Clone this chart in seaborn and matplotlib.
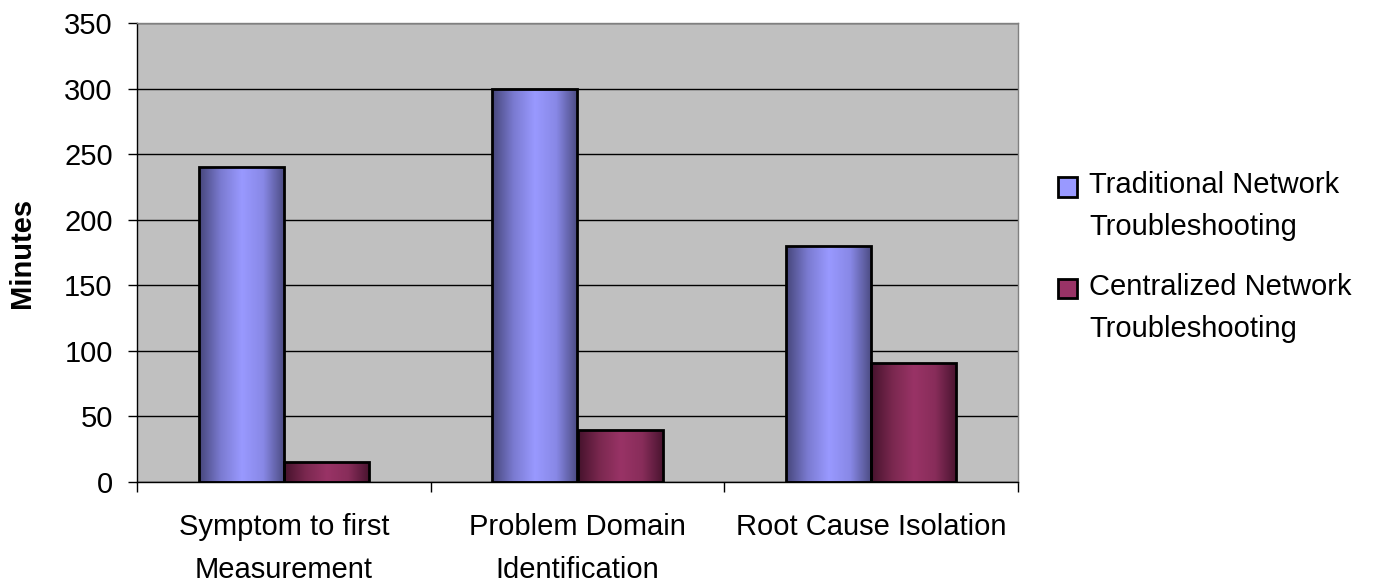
import numpy as np
import pandas as pd
import matplotlib
matplotlib.use("Agg")
import matplotlib.pyplot as plt
import seaborn as sns
from matplotlib.colors import LinearSegmentedColormap
from matplotlib.patches import Patch, Rectangle
from matplotlib.legend_handler import HandlerPatch

# chart values
categories = ["Symptom to first\nMeasurement", "Problem Domain\nIdentification", "Root Cause Isolation"]
series = ["Traditional Network\nTroubleshooting", "Centralized Network\nTroubleshooting"]
traditional = [240, 300, 180]
centralized = [15, 40, 91]

df = pd.DataFrame({
    "Category": categories * 2,
    "Series": [series[0]] * 3 + [series[1]] * 3,
    "Minutes": traditional + centralized,
})

sns.set_theme(style="white")
plt.rcParams["font.family"] = ["Liberation Sans", "DejaVu Sans"]
plt.rcParams["text.color"] = "black"
plt.rcParams["axes.labelcolor"] = "black"
plt.rcParams["xtick.color"] = "black"
plt.rcParams["ytick.color"] = "black"
FS = 21

colors = {series[0]: "#9999FF", series[1]: "#993366"}
cmaps = {
    series[0]: LinearSegmentedColormap.from_list("b", ["#46467a", "#7a7ad0", "#9999ff", "#8888e6", "#4a4a80"]),
    series[1]: LinearSegmentedColormap.from_list("m", ["#45122c", "#7a284f", "#993366", "#882d5a", "#47132e"]),
}

fig = plt.figure(figsize=(13.76, 5.87), dpi=100)
ax = fig.add_axes([137 / 1376, 1 - 482 / 587, (1018 - 137) / 1376, (482 - 23) / 587])
ax.set_facecolor("#C0C0C0")

sns.barplot(data=df, x="Category", y="Minutes", hue="Series", palette=colors,
            width=0.58, edgecolor="black", linewidth=2, ax=ax, legend=False)

ax.yaxis.grid(True, color="black", linewidth=1)
ax.set_axisbelow(True)

# cylinder-like shading on each bar
grad = np.linspace(0, 1, 256).reshape(1, -1)
for cont, name in zip(ax.containers, series):
    for bar in cont:
        x0, y0 = bar.get_x(), bar.get_y()
        w, h = bar.get_width(), bar.get_height()
        im = ax.imshow(grad, cmap=cmaps[name], aspect="auto",
                       extent=[x0, x0 + w, y0, y0 + h], zorder=bar.get_zorder() - 0.01)
        im.set_clip_path(bar)
        bar.set_facecolor("none")
ax.set_xlim(-0.5, 2.5)
ax.set_ylim(0, 350)
ax.set_yticks(range(0, 351, 50))

for s in ["top", "right"]:
    ax.spines[s].set_color("#808080")
    ax.spines[s].set_linewidth(1)
for s in ["left", "bottom"]:
    ax.spines[s].set_color("black")
    ax.spines[s].set_linewidth(1)

ax.tick_params(axis="y", labelsize=FS, length=6.5, width=1, color="black", left=True, pad=11)
ax.tick_params(axis="x", which="major", labelsize=FS, length=0, pad=22)
ax.set_xticks(range(len(categories)))
ax.set_xticklabels(categories, linespacing=1.7)
ax.set_xticks([-0.5, 0.5, 1.5, 2.5], minor=True)
ax.tick_params(axis="x", which="minor", length=7, width=1, color="black", bottom=True)
ax.set_xlabel("")
ax.set_ylabel("Minutes", fontsize=FS, fontweight="bold", labelpad=20)


def top_square(legend, orig_handle, xdescent, ydescent, width, height, fontsize):
    s = 0.66 * fontsize
    return Rectangle((-xdescent, -ydescent + height - s + 0.15 * fontsize), s, s)


handles = [Patch(facecolor=colors[s], edgecolor="black", linewidth=2, label=s) for s in series]
leg = fig.legend(handles=handles, loc="upper left", bbox_to_anchor=(1058 / 1376, 1 - 171 / 587),
                 frameon=False, fontsize=FS, handlelength=0.66, handleheight=2.4,
                 handletextpad=0.4, labelspacing=1.1, borderpad=0, borderaxespad=0,
                 handler_map={Patch: HandlerPatch(patch_func=top_square)})
for t in leg.get_texts():
    t.set_linespacing(1.63)

fig.savefig("out.png", dpi=100)
